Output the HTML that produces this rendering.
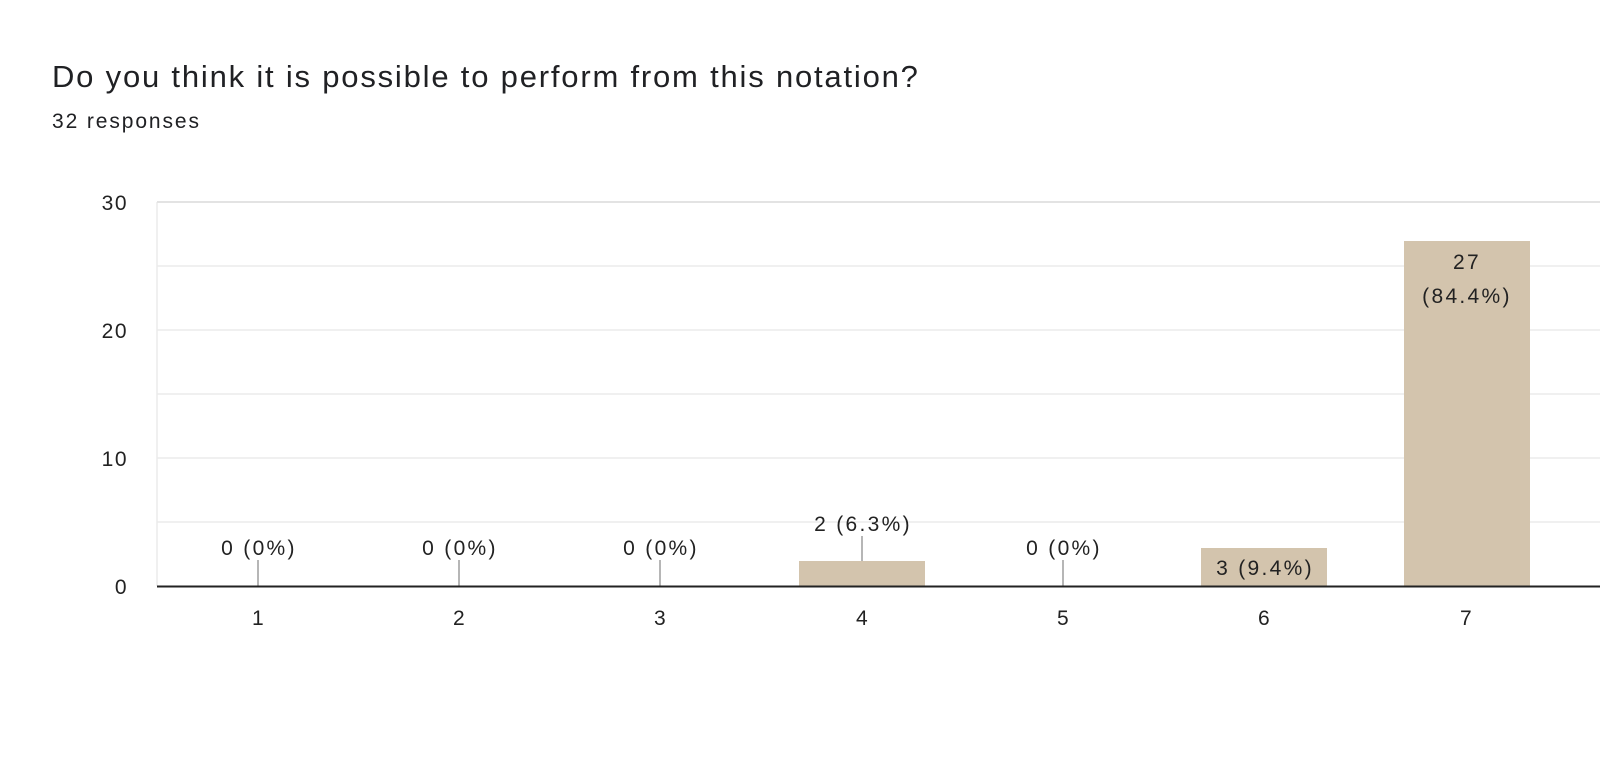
<!DOCTYPE html>
<html><head><meta charset="utf-8"><style>
html,body{margin:0;padding:0;background:#fff;}
svg{display:block;font-family:"Liberation Sans",Arial,sans-serif;}
</style></head><body>
<svg width="1600" height="761" viewBox="0 0 1600 761">
<rect width="1600" height="761" fill="#fff"/>
<text x="52" y="87" font-size="31" letter-spacing="1.8" fill="#202124">Do you think it is possible to perform from this notation?</text>
<text x="52" y="128" font-size="21" letter-spacing="1.9" fill="#202124">32 responses</text>
<g stroke="#ebebeb" stroke-width="1.5">
<line x1="157" y1="266" x2="1600" y2="266"/>
<line x1="157" y1="330" x2="1600" y2="330"/>
<line x1="157" y1="394" x2="1600" y2="394"/>
<line x1="157" y1="458" x2="1600" y2="458"/>
<line x1="157" y1="522" x2="1600" y2="522"/>
<line x1="157" y1="202" x2="157" y2="586"/>
</g>
<line x1="157" y1="202" x2="1600" y2="202" stroke="#e3e3e3" stroke-width="2"/>
<g font-size="21" fill="#222" text-anchor="end" letter-spacing="1.5">
<text x="128" y="210">30</text>
<text x="128" y="338">20</text>
<text x="128" y="466">10</text>
<text x="128" y="594">0</text>
</g>
<g fill="#d3c4ad">
<rect x="799" y="561" width="126" height="25"/>
<rect x="1201" y="548" width="126" height="38"/>
<rect x="1404" y="241" width="126" height="345"/>
</g>
<g stroke="#9e9e9e" stroke-width="1.5">
<line x1="258" y1="560" x2="258" y2="586"/>
<line x1="459" y1="560" x2="459" y2="586"/>
<line x1="660" y1="560" x2="660" y2="586"/>
<line x1="862" y1="536" x2="862" y2="561"/>
<line x1="1063" y1="560" x2="1063" y2="586"/>
</g>
<line x1="157" y1="586.5" x2="1600" y2="586.5" stroke="#222" stroke-width="2"/>
<g font-size="21" fill="#222" text-anchor="middle" letter-spacing="2.3">
<text x="259" y="555">0 (0%)</text>
<text x="460" y="555">0 (0%)</text>
<text x="661" y="555">0 (0%)</text>
<text x="863" y="531">2 (6.3%)</text>
<text x="1064" y="555">0 (0%)</text>
<text x="1265" y="575">3 (9.4%)</text>
<text x="1467" y="269">27</text>
<text x="1467" y="303">(84.4%)</text>
<text x="259" y="625">1</text>
<text x="460" y="625">2</text>
<text x="661" y="625">3</text>
<text x="863" y="625">4</text>
<text x="1064" y="625">5</text>
<text x="1265" y="625">6</text>
<text x="1467" y="625">7</text>
</g>
</svg>
</body></html>
